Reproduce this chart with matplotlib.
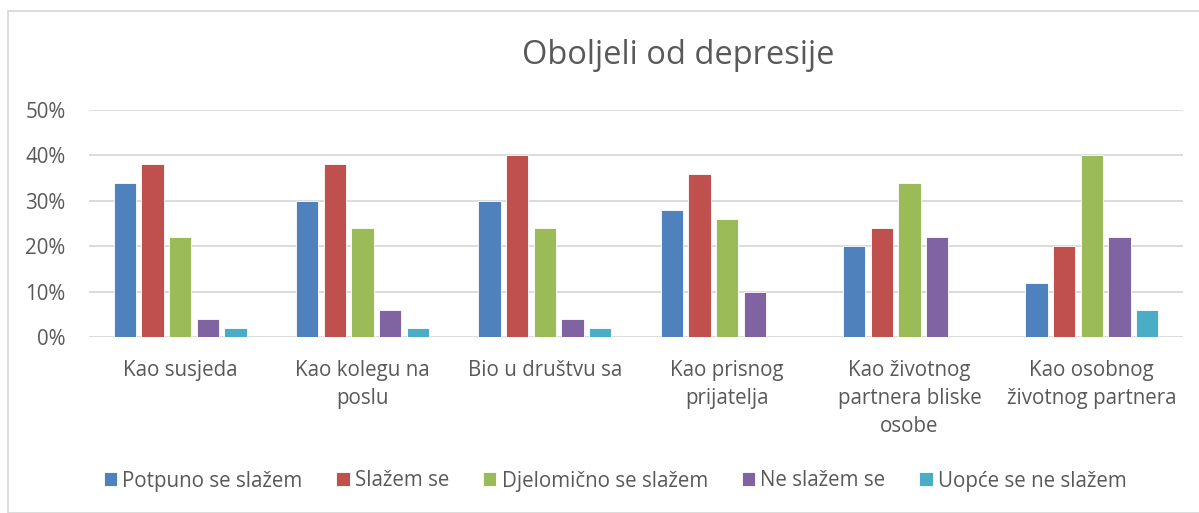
import matplotlib.pyplot as plt
import numpy as np
from matplotlib.patches import Rectangle

categories = ["Kao susjeda", "Kao kolegu na\nposlu", "Bio u društvu sa",
              "Kao prisnog\nprijatelja", "Kao životnog\npartnera bliske\nosobe",
              "Kao osobnog\nživotnog partnera"]
series_names = ["Potpuno se slažem", "Slažem se", "Djelomično se slažem",
                "Ne slažem se", "Uopće se ne slažem"]
potpuno = [34, 30, 30, 28, 20, 12]
slazem = [38, 38, 40, 36, 24, 20]
djelomicno = [22, 24, 24, 26, 34, 40]
ne_slazem = [4, 6, 4, 10, 22, 22]
uopce = [2, 2, 2, 0, 0, 6]
colors = ["#4F81BD", "#C0504D", "#9BBB59", "#8064A2", "#4BACC6"]

plt.rcParams['font.family'] = ['Open Sans', 'DejaVu Sans']
txt = "#595959"

fig = plt.figure(figsize=(11.99, 5.13), dpi=100)
ax = fig.add_axes([89/1199, 1-337/513, (1183-89)/1199, 227/513])

x = np.arange(len(categories))
step = 0.152
width = 0.122
for i, (vals, name) in enumerate(zip([potpuno, slazem, djelomicno, ne_slazem, uopce], series_names)):
    ax.bar(x + (i-2)*step, vals, width, color=colors[i], label=name,
           edgecolor="white", linewidth=0.6, zorder=3)

ax.set_xlim(-0.5, len(categories)-0.5)
ax.set_ylim(0, 50)
ax.set_yticks(range(0, 51, 10))
ax.set_yticklabels([f"{v}%" for v in range(0, 51, 10)])
ax.set_xticks(x)
ax.set_xticklabels(categories, linespacing=1.45, va="top")
ax.tick_params(axis="both", length=0, labelsize=14.8, labelcolor=txt)
ax.tick_params(axis="x", pad=16.5)
ax.tick_params(axis="y", pad=17)
ax.grid(axis="y", color="#D9D9D9", linewidth=1.3, zorder=0)
for s in ax.spines.values():
    s.set_visible(False)

fig.text(678/1199, 1-56/513, "Oboljeli od depresije", ha="center", va="center",
         fontsize=23.5, color=txt)

fig.legend(loc="center", bbox_to_anchor=(615/1199, 1-481/513), ncol=5, frameon=False,
           fontsize=14.8, labelcolor=txt, handlelength=0.65, handleheight=0.65,
           handletextpad=0.25, columnspacing=1.65)

fig.patches.append(Rectangle((7.5/1199, 0), 1.2, 1-10.5/513, transform=fig.transFigure,
                             fill=False, edgecolor="#D9D9D9", linewidth=1.3))

fig.savefig("out.png", dpi=100)
